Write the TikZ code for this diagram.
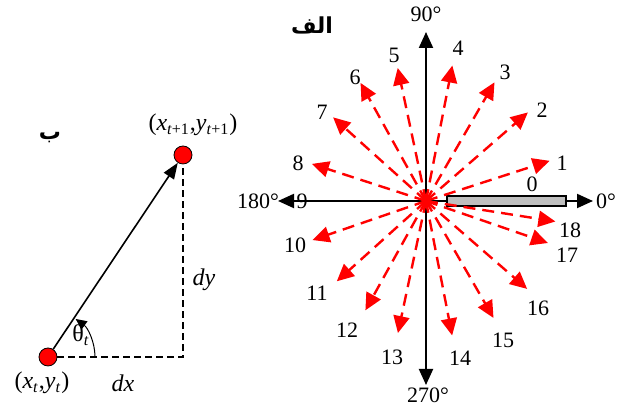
\documentclass[tikz,border=0pt]{standalone}
\usepackage{fontspec}
\setmainfont{Liberation Serif}
\newfontfamily\arabicfont[Script=Arabic]{DejaVu Sans}
\TeXXeTstate=1
\usetikzlibrary{arrows.meta}

\newcommand*{\ox}{426}
\newcommand*{\oy}{210}

\begin{document}
\begin{tikzpicture}
[
	x=0.5pt, y=0.5pt,
	font=\fontsize{11}{13}\selectfont,
	axis/.style={line width=1pt,{Triangle[length=8pt,width=7pt]}-{Triangle[length=8pt,width=7pt]}},
	dirarrow/.style={red,line width=1.2pt,dash pattern=on 6pt off 3.5pt,-{Triangle[length=8.5pt,width=8pt]}},
	dot/.style={circle,draw,fill=red,inner sep=0pt,minimum size=9pt},
	guide/.style={line width=0.9pt,dash pattern=on 3.5pt off 2pt},
	pointlabel/.style={font=\fontsize{12}{14}\selectfont}
]
	\useasboundingbox (0,0) rectangle (617,411);

	% axes
	\coordinate (o) at (\ox,\oy);
	\coordinate (ax0) at (593,\oy);
	\coordinate (ax90) at (\ox,379);
	\coordinate (ax180) at (278,\oy);
	\coordinate (ax270) at (\ox,26);
	\draw[axis] (ax180) -- (ax0);
	\draw[axis] (ax270) -- (ax90);
	\node (deg0) at (606,\oy) {0°};
	\node (deg90) at (\ox,397) {90°};
	\node (deg180) at (258,\oy) {180°};
	\node (deg270) at (428,16) {270°};

	% direction 0
	\draw[fill=black!25,line width=0.6pt] (447,205) rectangle (566,215);
	\node (num0) at (532,227) {0};

	% directions 1..18
	\foreach \i/\a/\r/\lx/\ly in {1/18/130/562/248, 2/41/135/542/301, 3/60/137/505/339,
		4/79/138/458/363, 5/102/136/394/356, 6/119/135/355/334, 7/138/125/322/299,
		8/162/120/298/248, 10/199/120/295/166, 11/222/120/317/118, 12/241/125/347/81,
		13/258/135/392/54, 14/281/137/460/53, 15/300/135/503/71, 16/319/134/538/103,
		17/341/129/567/156, 18/351/131/570/181}
	{
		\path (o) ++(\a:\r) coordinate (tip\i);
		\draw[dirarrow] (o) -- (tip\i);
		\node (num\i) at (\lx,\ly) {\i};
	}
	\node (num9) at (302,\oy) {9};

	\node (tagA) at (312,386) {\arabicfont\bfseries\beginR الف\endR};

	% step between two points
	\node[dot] (pt) at (48,54) {};
	\node[dot] (pn) at (183,256) {};
	\coordinate (corner) at (183,54);
	\draw[guide] (pt) -- (corner) -- (pn);
	\draw[line width=0.8pt,-{Triangle[length=8pt,width=6pt]}] (pt) -- (pn);
	\draw[line width=0.5pt,-{Triangle[length=5.5pt,width=5pt]}] ([shift={(0:47)}]pt.center) arc (0:54:47);

	\node[pointlabel] (lpt) at (42,28) {(\textit{x}\textsubscript{\textit{t}},\textit{y}\textsubscript{\textit{t}})};
	\node[pointlabel] (lpn) at (193,286) {(\textit{x}\textsubscript{\textit{t}+1},\textit{y}\textsubscript{\textit{t}+1})};
	\node[pointlabel] (ldx) at (123,28) {\textit{dx}};
	\node[pointlabel] (ldy) at (204,131) {\textit{dy}};
	\node[pointlabel] (ltheta) at (81,76) {θ\textsubscript{\textit{t}}};

	\node (tagB) at (50,273) {\arabicfont\bfseries\beginR ب\endR};

\end{tikzpicture}
\end{document}
